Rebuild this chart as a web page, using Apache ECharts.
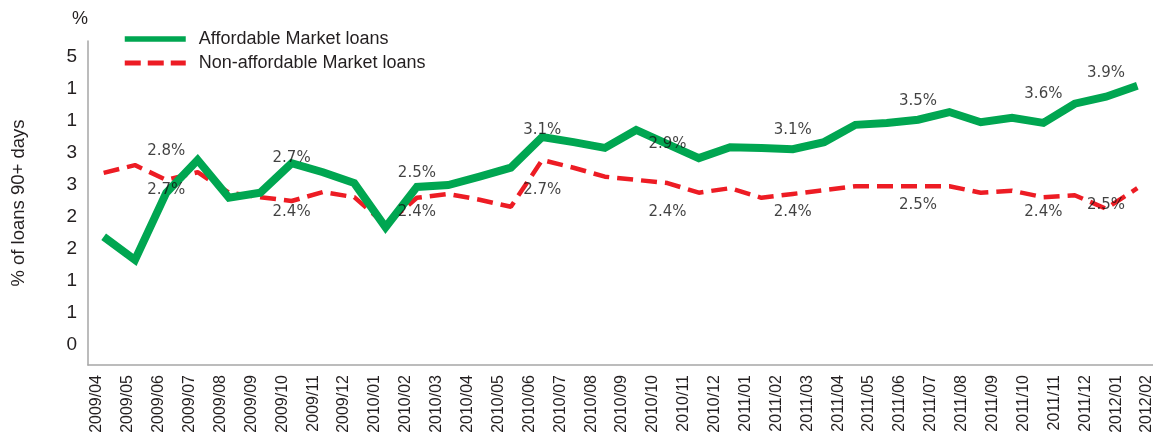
<!DOCTYPE html>
<html><head><meta charset="utf-8">
<script src="https://cdn.jsdelivr.net/npm/echarts@6/dist/echarts.min.js"></script>
<style>html,body{margin:0;padding:0;background:#fff}#c{width:1153px;height:432px}</style>
</head><body><div id="c"></div>
<script>
const months = ['2009/04','2009/05','2009/06','2009/07','2009/08','2009/09','2009/10','2009/11','2009/12',
  '2010/01','2010/02','2010/03','2010/04','2010/05','2010/06','2010/07','2010/08','2010/09','2010/10','2010/11','2010/12',
  '2011/01','2011/02','2011/03','2011/04','2011/05','2011/06','2011/07','2011/08','2011/09','2011/10','2011/11','2011/12',
  '2012/01','2012/02'];
const yTickValues = [0, 0.5, 1, 1.5, 2, 2.5, 3, 3.5, 4, 4.5];
const yTickLabels = ['0', '1', '1', '2', '2', '3', '3', '1', '1', '5'];
const affordable = [1.69, 1.33, 2.38, 2.89, 2.30, 2.38, 2.84, 2.70, 2.53, 1.84, 2.47, 2.50, 2.63, 2.77,
  3.25, 3.17, 3.08, 3.36, 3.14, 2.92, 3.09, 3.08, 3.06, 3.17, 3.44, 3.47, 3.52, 3.64, 3.48, 3.55, 3.47, 3.77, 3.88, 4.05];
const nonAffordable = [2.69, 2.81, 2.58, 2.70, 2.38, 2.31, 2.25, 2.39, 2.31, 1.88, 2.30, 2.36, 2.27, 2.16,
  2.89, 2.77, 2.63, 2.58, 2.53, 2.38, 2.45, 2.30, 2.36, 2.42, 2.48, 2.48, 2.48, 2.48, 2.38, 2.41, 2.31, 2.34, 2.13, 2.45];
const noteIndex = [2, 6, 10, 14, 18, 22, 26, 30, 32];
const affordableNotes = [2.8, 2.7, 2.5, 3.1, 2.9, 3.1, 3.5, 3.6, 3.9];
const nonAffordableNotes = [2.7, 2.4, 2.4, 2.7, 2.4, 2.4, 2.5, 2.4, 2.5];

const SANS = "'Liberation Sans', Arial, sans-serif";
const NOTE_FONT = "'DejaVu Sans', Verdana, sans-serif";
const TEXT = '#231f20';
const GREEN = '#00a651';
const RED = '#ed1c24';
const AXIS = '#a6a6a6';
const pointIndex = affordable.map((_, i) => String(i));

const chart = echarts.init(document.getElementById('c'), null, {renderer: 'canvas'});
chart.setOption({
  animation: false,
  backgroundColor: '#fff',
  title: {text: '%', left: 72, top: 10, padding: 0,
    textStyle: {fontSize: 18, fontWeight: 'normal', color: TEXT, fontFamily: SANS}},
  legend: {
    orient: 'vertical', left: 122, top: 30, padding: 0, itemWidth: 61, itemHeight: 16, itemGap: 6,
    itemStyle: {opacity: 0},
    data: [
      {name: 'Affordable Market loans', lineStyle: {color: GREEN, width: 5.5, type: 'solid', opacity: 1}},
      {name: 'Non-affordable Market loans', lineStyle: {color: RED, width: 5, type: [16, 7], opacity: 1}}
    ],
    textStyle: {fontSize: 18, fontFamily: SANS, color: TEXT, padding: [0, 0, 0, 8]}
  },
  grid: [
    {left: 88, right: 0, top: 41, bottom: 67, outerBoundsMode: 'none', containLabel: false},
    {left: 81.5, right: -9.5, top: 41, bottom: 67, outerBoundsMode: 'none', containLabel: false}
  ],
  xAxis: [
    {gridIndex: 0, type: 'category', data: pointIndex, boundaryGap: true,
      axisLine: {onZero: false, lineStyle: {color: AXIS, width: 1.5}}, axisTick: {show: false}, axisLabel: {show: false}},
    {gridIndex: 1, type: 'category', data: months, boundaryGap: true,
      axisLine: {show: false, onZero: false}, axisTick: {show: false},
      axisLabel: {rotate: 90, interval: 0, fontSize: 16, margin: 10, color: TEXT, fontFamily: SANS}}
  ],
  yAxis: [
    {gridIndex: 0, type: 'value', min: -0.3125, max: 4.75,
      name: '% of loans 90+ days', nameLocation: 'middle', nameRotate: 90, nameGap: 60,
      nameTextStyle: {fontSize: 18.5, color: TEXT, fontFamily: SANS},
      axisLine: {show: true, lineStyle: {color: AXIS, width: 1.5}}, axisTick: {show: false}, splitLine: {show: false},
      axisLabel: {customValues: yTickValues, fontSize: 19, margin: 11, color: TEXT, fontFamily: SANS,
        formatter: v => yTickLabels[Math.round(v / 0.5)]}},
    {gridIndex: 0, type: 'value', min: -0.2, max: 4.35, show: false},
    {gridIndex: 1, type: 'value', show: false}
  ],
  series: [
    {name: 'Affordable Market loans', type: 'line', xAxisIndex: 0, yAxisIndex: 0, data: affordable,
      symbol: 'none', color: GREEN, lineStyle: {color: GREEN, width: 8, join: 'miter'}, z: 3},
    {name: 'Non-affordable Market loans', type: 'line', xAxisIndex: 0, yAxisIndex: 0, data: nonAffordable,
      symbol: 'none', color: RED, lineStyle: {color: RED, width: 4.5, type: [16, 8]}, z: 2},
    {type: 'scatter', xAxisIndex: 0, yAxisIndex: 1, symbolSize: 0, z: 5, silent: true,
      data: noteIndex.map((idx, k) => [idx, affordableNotes[k]]),
      label: {show: true, position: 'inside', formatter: p => p.value[1].toFixed(1) + '%',
        fontSize: 15, color: '#111', fontFamily: NOTE_FONT}},
    {type: 'scatter', xAxisIndex: 0, yAxisIndex: 1, symbolSize: 0, z: 5, silent: true,
      data: noteIndex.map((idx, k) => [idx, nonAffordableNotes[k]]),
      label: {show: true, position: 'inside', offset: [0, 32], formatter: p => p.value[1].toFixed(1) + '%',
        fontSize: 15, color: '#111', fontFamily: NOTE_FONT}}
  ]
});
</script>
</body></html>
